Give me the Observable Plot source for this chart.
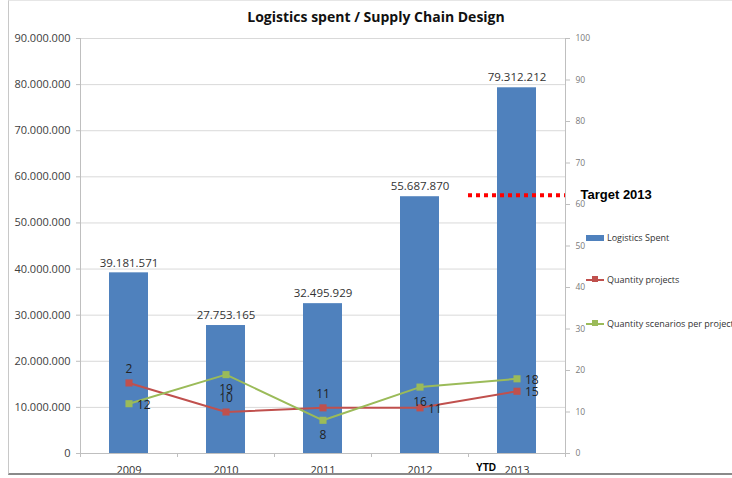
<!DOCTYPE html>
<html>
<head>
<meta charset="utf-8">
<script src="https://cdn.jsdelivr.net/npm/d3@7"></script>
<script src="https://cdn.jsdelivr.net/npm/@observablehq/plot@0.6"></script>
<style>
  html, body { margin: 0; padding: 0; background: #fff; overflow: hidden; }
  #wrap { position: relative; width: 732px; height: 478px; overflow: hidden; font-family: "Open Sans", sans-serif; }
  #frame { position: absolute; left: 8px; top: 0px; width: 760px; height: 475px; border-left: 1px solid #c8c8c8; border-top: 1px solid #e6e6e6; border-bottom: 2px solid #8a8a8a; box-sizing: border-box; pointer-events: none; }
  #title { position: absolute; left: 11px; width: 730px; top: 7px; text-align: center; font-weight: bold; font-size: 14px; color: #111; }
  .leg { position: absolute; left: 586px; font-size: 9px; color: #333; white-space: nowrap; }
  .leg .sw { display: inline-block; vertical-align: middle; position: relative; width: 18px; height: 6px; margin-right: 3px; }
  .leg .ln { position: absolute; left: 0; top: 2px; width: 18px; height: 2px; }
  .leg .mk { position: absolute; left: 6px; top: -1px; width: 6px; height: 6px; }
  .leg span.t { vertical-align: middle; }
</style>
</head>
<body>
<div id="wrap">
  <div id="chart"></div>
  <div id="frame"></div>
  <div id="title">Logistics spent / Supply Chain Design</div>
  <div id="legend"></div>
</div>
<script>
// ---- data ----
const years = ["2009", "2010", "2011", "2012", "2013"];
const logisticsSpent = [39181571, 27753165, 32495929, 55687870, 79312212];
const quantityProjects = [17, 10, 11, 11, 15];
const quantityProjectsLabels = ["2", "10", "11", "11", "15"];
const scenariosPerProject = [12, 19, 8, 16, 18];
const scenariosPerProjectLabels = ["12", "19", "8", "16", "18"];
const leftTicks = [0, 10000000, 20000000, 30000000, 40000000, 50000000, 60000000, 70000000, 80000000, 90000000];
const rightTicks = [0, 10, 20, 30, 40, 50, 60, 70, 80, 90, 100];
const target2013 = 56000000;
const seriesNames = ["Logistics Spent", "Quantity projects", "Quantity scenarios per project"];
const projectLabelPlacement = ["above", "above", "above", "right", "right"];
const scenarioLabelPlacement = ["right", "below", "below", "below", "right"];

// ---- build ----
const colors = { spent: "#4F81BD", proj: "#C0504D", scen: "#9BBB59" };
const k = 90000000 / 100; // right axis -> left axis units
const fmt = v => d3.format(",")(v).replace(/,/g, ".");

const rows = years.map((year, i) => ({
  i, year,
  spent: logisticsSpent[i],
  proj: quantityProjects[i] * k, projLabel: quantityProjectsLabels[i], projPos: projectLabelPlacement[i],
  scen: scenariosPerProject[i] * k, scenLabel: scenariosPerProjectLabels[i], scenPos: scenarioLabelPlacement[i]
}));

const labelMarks = [];
const offsets = { above: { dx: 0, dy: -14, textAnchor: "middle" }, below: { dx: 0, dy: 15, textAnchor: "middle" }, right: { dx: 8, dy: 1, textAnchor: "start" } };
for (const pos of Object.keys(offsets)) {
  labelMarks.push(Plot.text(rows.filter(d => d.projPos === pos), { x: "i", y: "proj", text: "projLabel", ...offsets[pos], fontSize: 12, fill: "#222" }));
  labelMarks.push(Plot.text(rows.filter(d => d.scenPos === pos), { x: "i", y: "scen", text: "scenLabel", ...offsets[pos], fontSize: 12, fill: "#222" }));
}

const chart = Plot.plot({
  width: 732,
  height: 478,
  marginLeft: 80,
  marginRight: 167,
  marginTop: 38,
  marginBottom: 25,
  style: { fontFamily: "Open Sans", background: "transparent", overflow: "visible" },
  x: { domain: [-0.5, years.length - 0.5], axis: null, label: null },
  y: { domain: [0, 90000000], axis: null, label: null },
  marks: [
    Plot.gridY(leftTicks, { stroke: "#d9d9d9", strokeOpacity: 1 }),
    Plot.axisY(leftTicks, { anchor: "left", tickSize: 4, tickPadding: 6, tickFormat: fmt, fontSize: 11, fill: "#404040", stroke: "#bfbfbf", label: null }),
    Plot.axisY(rightTicks.map(v => v * k), { anchor: "right", tickSize: 4, tickPadding: 6, tickFormat: v => Math.round(v / k), fontSize: 8.5, fill: "#7a7a7a", stroke: "#bfbfbf", label: null }),
    Plot.ruleX([-0.5, years.length - 0.5], { stroke: "#bfbfbf" }),
    Plot.ruleY([0], { stroke: "#bfbfbf" }),
    Plot.axisX(d3.range(-0.5, years.length, 1), { tickSize: 4, tickFormat: () => "", stroke: "#bfbfbf", label: null }),
    Plot.axisX(d3.range(years.length), { tickSize: 0, tickPadding: 13, tickFormat: i => years[i], fontSize: 11, fill: "#333", label: null }),
    Plot.rectY(rows, { x1: d => d.i - 0.5, x2: d => d.i + 0.5, y: "spent", insetLeft: 29, insetRight: 29, fill: colors.spent }),
    Plot.text(rows, { x: "i", y: "spent", text: d => fmt(d.spent), dy: -10, fontSize: 11.5, fill: "#333" }),
    Plot.ruleY([target2013], { x1: years.length - 1.5, x2: years.length - 0.5, stroke: "#FF0000", strokeWidth: 4, strokeDasharray: "4,4" }),
    Plot.text(["Target 2013"], { x: years.length - 0.5, y: target2013, text: d => d, dx: 15, textAnchor: "start", fontFamily: "Liberation Sans", fontWeight: "bold", fontSize: 13, fill: "#000" }),
    Plot.text(["YTD"], { x: years.length - 1, y: 0, text: d => d, dx: -31, dy: 14, fontFamily: "Liberation Sans", fontWeight: "bold", fontSize: 10, fill: "#000" }),
    Plot.line(rows, { x: "i", y: "proj", stroke: colors.proj, strokeWidth: 2 }),
    Plot.line(rows, { x: "i", y: "scen", stroke: colors.scen, strokeWidth: 2 }),
    Plot.dot(rows, { x: "i", y: "proj", symbol: "square", r: 4, fill: colors.proj }),
    Plot.dot(rows, { x: "i", y: "scen", symbol: "square", r: 4, fill: colors.scen }),
    ...labelMarks
  ]
});
document.getElementById("chart").appendChild(chart);

// legend
const legend = document.getElementById("legend");
const legTops = [230, 272, 316];
const legColors = [colors.spent, colors.proj, colors.scen];
seriesNames.forEach((name, j) => {
  const div = document.createElement("div");
  div.className = "leg";
  div.style.top = legTops[j] + "px";
  const sw = j === 0
    ? `<span class="sw" style="background:${legColors[j]}"></span>`
    : `<span class="sw"><span class="ln" style="background:${legColors[j]}"></span><span class="mk" style="background:${legColors[j]}"></span></span>`;
  div.innerHTML = sw + `<span class="t">${name}</span>`;
  legend.appendChild(div);
});
</script>
</body>
</html>
